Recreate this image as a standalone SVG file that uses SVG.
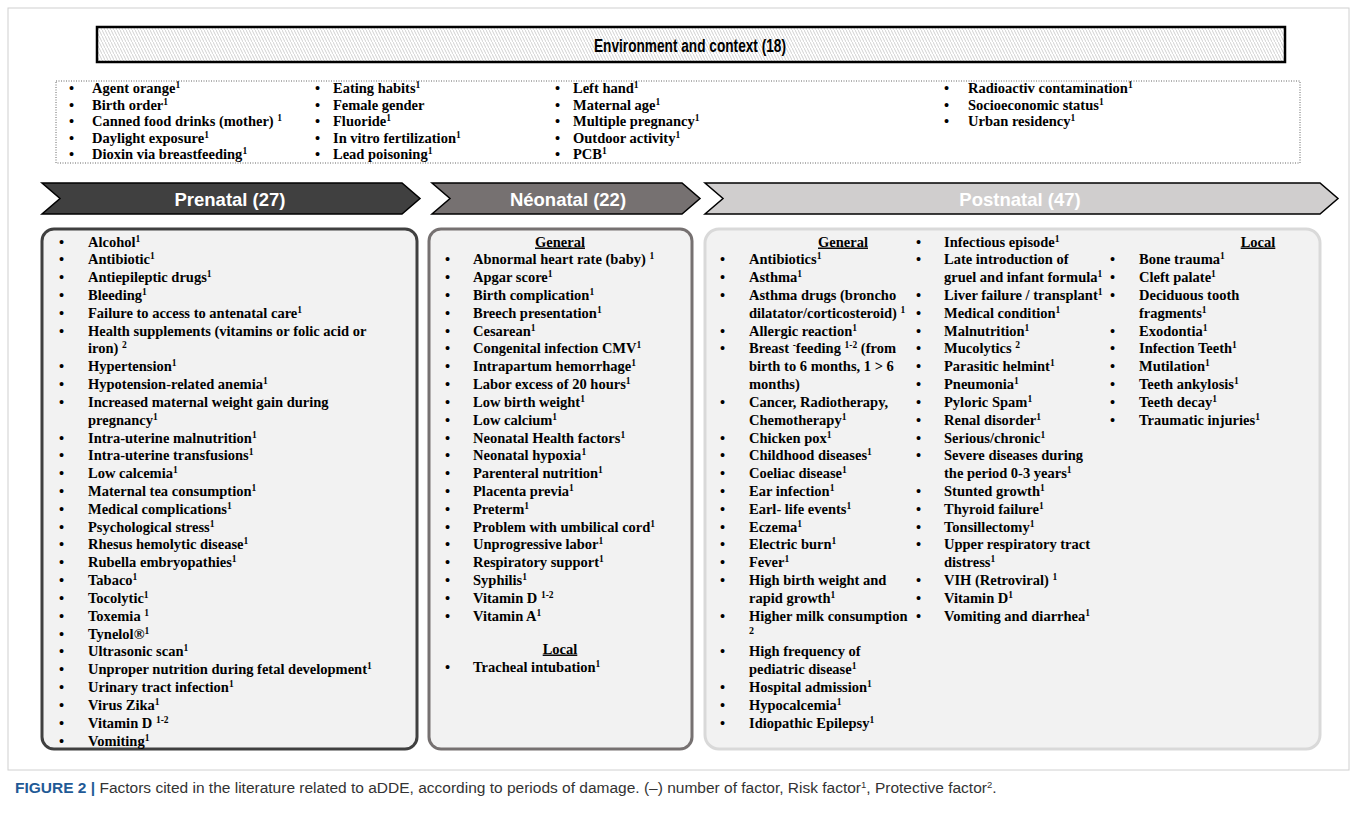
<svg xmlns="http://www.w3.org/2000/svg" width="1357" height="817" viewBox="0 0 1357 817">
<defs>
<pattern id="hatch" width="3" height="6" patternUnits="userSpaceOnUse">
<rect width="3" height="6" fill="#ffffff"/>
<line x1="0" y1="0" x2="3" y2="6" stroke="#bdbdbd" stroke-width="0.7"/>
</pattern>
<style>
.t{font-family:"Liberation Serif","Times New Roman",serif;font-weight:bold;font-size:14.5px;fill:#000}
.b{font-family:"Liberation Serif","Times New Roman",serif;font-weight:bold;font-size:14.5px;fill:#000}
.s{font-size:9.5px;baseline-shift:super}
.h{font-family:"Liberation Sans",Arial,sans-serif;font-weight:bold;font-size:18.5px;fill:#fff;text-anchor:middle}
.u{text-decoration:underline;text-anchor:middle}
.box{fill:#f2f2f2;stroke-width:3}
.cap{font-family:"Liberation Sans",Arial,sans-serif;font-size:15.5px;fill:#333}
</style>
</defs>
<rect width="1357" height="817" fill="#fff"/>
<rect x="8" y="8" width="1341" height="762" fill="none" stroke="#d0d0d0" stroke-width="1"/>

<g id="environment">
<rect x="97" y="27" width="1188" height="35" fill="url(#hatch)" stroke="#000" stroke-width="2.5"/>
<text x="690" y="51.5" font-family="Liberation Sans,Arial,sans-serif" font-weight="bold" font-size="18" text-anchor="middle" textLength="192" lengthAdjust="spacingAndGlyphs">Environment and context (18)</text>
<rect x="56" y="81" width="1244" height="82" fill="#fff" stroke="#666" stroke-width="1" stroke-dasharray="1,1.5"/>
<g class="b">
<text x="69" y="93">•</text><text x="69" y="109.5">•</text><text x="69" y="126">•</text><text x="69" y="142.5">•</text><text x="69" y="159">•</text>
<text x="315" y="93">•</text><text x="315" y="109.5">•</text><text x="315" y="126">•</text><text x="315" y="142.5">•</text><text x="315" y="159">•</text>
<text x="555" y="93">•</text><text x="555" y="109.5">•</text><text x="555" y="126">•</text><text x="555" y="142.5">•</text><text x="555" y="159">•</text>
<text x="944" y="93">•</text><text x="944" y="109.5">•</text><text x="944" y="126">•</text>
</g>
<g class="t">
<text x="92" y="93">Agent orange<tspan class="s">1</tspan></text>
<text x="92" y="109.5">Birth order<tspan class="s">1</tspan></text>
<text x="92" y="126">Canned food drinks (mother) <tspan class="s">1</tspan></text>
<text x="92" y="142.5">Daylight exposure<tspan class="s">1</tspan></text>
<text x="92" y="159">Dioxin via breastfeeding<tspan class="s">1</tspan></text>
<text x="333" y="93">Eating habits<tspan class="s">1</tspan></text>
<text x="333" y="109.5">Female gender</text>
<text x="333" y="126">Fluoride<tspan class="s">1</tspan></text>
<text x="333" y="142.5">In vitro fertilization<tspan class="s">1</tspan></text>
<text x="333" y="159">Lead poisoning<tspan class="s">1</tspan></text>
<text x="573" y="93">Left hand<tspan class="s">1</tspan></text>
<text x="573" y="109.5">Maternal age<tspan class="s">1</tspan></text>
<text x="573" y="126">Multiple pregnancy<tspan class="s">1</tspan></text>
<text x="573" y="142.5">Outdoor activity<tspan class="s">1</tspan></text>
<text x="573" y="159">PCB<tspan class="s">1</tspan></text>
<text x="968" y="93">Radioactiv contamination<tspan class="s">1</tspan></text>
<text x="968" y="109.5">Socioeconomic status<tspan class="s">1</tspan></text>
<text x="968" y="126">Urban residency<tspan class="s">1</tspan></text>
</g>
</g>

<g id="prenatal">
<polygon points="42,183 402,183 420,198.5 402,214 42,214 60,198.5" fill="#404040" stroke="#000" stroke-width="1.5"/>
<text class="h" x="230" y="205.5">Prenatal (27)</text>
<rect class="box" x="42" y="229" width="375" height="520" rx="12" stroke="#404040"/>
<g class="b">
<text x="59" y="246.5">•</text><text x="59" y="264.3">•</text><text x="59" y="282.1">•</text><text x="59" y="300">•</text><text x="59" y="317.8">•</text><text x="59" y="335.6">•</text>
<text x="59" y="371.2">•</text><text x="59" y="389.1">•</text><text x="59" y="406.9">•</text>
<text x="59" y="442.5">•</text><text x="59" y="460.3">•</text><text x="59" y="478.2">•</text><text x="59" y="496">•</text><text x="59" y="513.8">•</text><text x="59" y="531.6">•</text><text x="59" y="549.4">•</text><text x="59" y="567.3">•</text><text x="59" y="585.1">•</text><text x="59" y="602.9">•</text><text x="59" y="620.7">•</text><text x="59" y="638.5">•</text><text x="59" y="656.4">•</text><text x="59" y="674.2">•</text><text x="59" y="692">•</text><text x="59" y="709.8">•</text><text x="59" y="727.6">•</text><text x="59" y="745.5">•</text>
</g>
<g class="t">
<text x="88" y="246.5">Alcohol<tspan class="s">1</tspan></text>
<text x="88" y="264.3">Antibiotic<tspan class="s">1</tspan></text>
<text x="88" y="282.1">Antiepileptic drugs<tspan class="s">1</tspan></text>
<text x="88" y="300">Bleeding<tspan class="s">1</tspan></text>
<text x="88" y="317.8">Failure to access to antenatal care<tspan class="s">1</tspan></text>
<text x="88" y="335.6">Health supplements (vitamins or folic acid or</text>
<text x="88" y="353.4">iron) <tspan class="s">2</tspan></text>
<text x="88" y="371.2">Hypertension<tspan class="s">1</tspan></text>
<text x="88" y="389.1">Hypotension-related anemia<tspan class="s">1</tspan></text>
<text x="88" y="406.9">Increased maternal weight gain during</text>
<text x="88" y="424.7">pregnancy<tspan class="s">1</tspan></text>
<text x="88" y="442.5">Intra-uterine malnutrition<tspan class="s">1</tspan></text>
<text x="88" y="460.3">Intra-uterine transfusions<tspan class="s">1</tspan></text>
<text x="88" y="478.2">Low calcemia<tspan class="s">1</tspan></text>
<text x="88" y="496">Maternal tea consumption<tspan class="s">1</tspan></text>
<text x="88" y="513.8">Medical complications<tspan class="s">1</tspan></text>
<text x="88" y="531.6">Psychological stress<tspan class="s">1</tspan></text>
<text x="88" y="549.4">Rhesus hemolytic disease<tspan class="s">1</tspan></text>
<text x="88" y="567.3">Rubella embryopathies<tspan class="s">1</tspan></text>
<text x="88" y="585.1">Tabaco<tspan class="s">1</tspan></text>
<text x="88" y="602.9">Tocolytic<tspan class="s">1</tspan></text>
<text x="88" y="620.7">Toxemia <tspan class="s">1</tspan></text>
<text x="88" y="638.5">Tynelol®<tspan class="s">1</tspan></text>
<text x="88" y="656.4">Ultrasonic scan<tspan class="s">1</tspan></text>
<text x="88" y="674.2">Unproper nutrition during fetal development<tspan class="s">1</tspan></text>
<text x="88" y="692">Urinary tract infection<tspan class="s">1</tspan></text>
<text x="88" y="709.8">Virus Zika<tspan class="s">1</tspan></text>
<text x="88" y="727.6">Vitamin D <tspan class="s">1-2</tspan></text>
<text x="88" y="745.5">Vomiting<tspan class="s">1</tspan></text>
</g>
</g>

<g id="neonatal">
<polygon points="432,183 682,183 700,198.5 682,214 432,214 450,198.5" fill="#767171" stroke="#000" stroke-width="1.5"/>
<text class="h" x="568" y="205.5">Néonatal (22)</text>
<rect class="box" x="429" y="229" width="263" height="520" rx="12" stroke="#767171"/>
<g class="t">
<text class="u" x="560" y="246.5">General</text>
<text class="u" x="560" y="653.5">Local</text>
</g>
<g class="b">
<text x="445" y="264.3">•</text><text x="445" y="282.1">•</text><text x="445" y="300">•</text><text x="445" y="317.8">•</text><text x="445" y="335.6">•</text><text x="445" y="353.4">•</text><text x="445" y="371.2">•</text><text x="445" y="389.1">•</text><text x="445" y="406.9">•</text><text x="445" y="424.7">•</text><text x="445" y="442.5">•</text><text x="445" y="460.3">•</text><text x="445" y="478.2">•</text><text x="445" y="496">•</text><text x="445" y="513.8">•</text><text x="445" y="531.6">•</text><text x="445" y="549.4">•</text><text x="445" y="567.3">•</text><text x="445" y="585.1">•</text><text x="445" y="602.9">•</text><text x="445" y="620.7">•</text><text x="445" y="671.5">•</text>
</g>
<g class="t">
<text x="473" y="264.3">Abnormal heart rate (baby) <tspan class="s">1</tspan></text>
<text x="473" y="282.1">Apgar score<tspan class="s">1</tspan></text>
<text x="473" y="300">Birth complication<tspan class="s">1</tspan></text>
<text x="473" y="317.8">Breech presentation<tspan class="s">1</tspan></text>
<text x="473" y="335.6">Cesarean<tspan class="s">1</tspan></text>
<text x="473" y="353.4">Congenital infection CMV<tspan class="s">1</tspan></text>
<text x="473" y="371.2">Intrapartum hemorrhage<tspan class="s">1</tspan></text>
<text x="473" y="389.1">Labor excess of 20 hours<tspan class="s">1</tspan></text>
<text x="473" y="406.9">Low birth weight<tspan class="s">1</tspan></text>
<text x="473" y="424.7">Low calcium<tspan class="s">1</tspan></text>
<text x="473" y="442.5">Neonatal Health factors<tspan class="s">1</tspan></text>
<text x="473" y="460.3">Neonatal hypoxia<tspan class="s">1</tspan></text>
<text x="473" y="478.2">Parenteral nutrition<tspan class="s">1</tspan></text>
<text x="473" y="496">Placenta previa<tspan class="s">1</tspan></text>
<text x="473" y="513.8">Preterm<tspan class="s">1</tspan></text>
<text x="473" y="531.6">Problem with umbilical cord<tspan class="s">1</tspan></text>
<text x="473" y="549.4">Unprogressive labor<tspan class="s">1</tspan></text>
<text x="473" y="567.3">Respiratory support<tspan class="s">1</tspan></text>
<text x="473" y="585.1">Syphilis<tspan class="s">1</tspan></text>
<text x="473" y="602.9">Vitamin D <tspan class="s">1-2</tspan></text>
<text x="473" y="620.7">Vitamin A<tspan class="s">1</tspan></text>
<text x="473" y="671.5">Tracheal intubation<tspan class="s">1</tspan></text>
</g>
</g>

<g id="postnatal">
<polygon points="705,183 1320,183 1338,198.5 1320,214 705,214 723,198.5" fill="#d0cece" stroke="#000" stroke-width="1.5"/>
<text class="h" x="1020" y="205.5">Postnatal (47)</text>
<rect class="box" x="705" y="229" width="615" height="520" rx="14" stroke="#d9d9d9"/>
<g class="t">
<text class="u" x="843" y="246.5">General</text>
<text class="u" x="1258" y="246.5">Local</text>
</g>
<g class="b">
<text x="720" y="264.3">•</text><text x="720" y="282.1">•</text><text x="720" y="300">•</text><text x="720" y="335.6">•</text><text x="720" y="353.4">•</text><text x="720" y="406.9">•</text><text x="720" y="442.5">•</text><text x="720" y="460.3">•</text><text x="720" y="478.2">•</text><text x="720" y="496">•</text><text x="720" y="513.8">•</text><text x="720" y="531.6">•</text><text x="720" y="549.4">•</text><text x="720" y="567.3">•</text><text x="720" y="585.1">•</text><text x="720" y="620.7">•</text><text x="720" y="656.4">•</text><text x="720" y="692">•</text><text x="720" y="709.8">•</text><text x="720" y="727.6">•</text>
<text x="916" y="246.5">•</text><text x="916" y="264.3">•</text><text x="916" y="300">•</text><text x="916" y="317.8">•</text><text x="916" y="335.6">•</text><text x="916" y="353.4">•</text><text x="916" y="371.2">•</text><text x="916" y="389.1">•</text><text x="916" y="406.9">•</text><text x="916" y="424.7">•</text><text x="916" y="442.5">•</text><text x="916" y="460.3">•</text><text x="916" y="496">•</text><text x="916" y="513.8">•</text><text x="916" y="531.6">•</text><text x="916" y="549.4">•</text><text x="916" y="585.1">•</text><text x="916" y="602.9">•</text><text x="916" y="620.7">•</text>
<text x="1110" y="264.3">•</text><text x="1110" y="282.1">•</text><text x="1110" y="300">•</text><text x="1110" y="335.6">•</text><text x="1110" y="353.4">•</text><text x="1110" y="371.2">•</text><text x="1110" y="389.1">•</text><text x="1110" y="406.9">•</text><text x="1110" y="424.7">•</text>
</g>
<g class="t">
<text x="749" y="264.3">Antibiotics<tspan class="s">1</tspan></text>
<text x="749" y="282.1">Asthma<tspan class="s">1</tspan></text>
<text x="749" y="300">Asthma drugs (broncho</text>
<text x="749" y="317.8">dilatator/corticosteroid) <tspan class="s">1</tspan></text>
<text x="749" y="335.6">Allergic reaction<tspan class="s">1</tspan></text>
<text x="749" y="353.4">Breast <tspan class="s">-</tspan>feeding <tspan class="s">1-2</tspan> (from</text>
<text x="749" y="371.2">birth to 6 months, 1 &gt; 6</text>
<text x="749" y="389.1">months)</text>
<text x="749" y="406.9">Cancer,  Radiotherapy,</text>
<text x="749" y="424.7">Chemotherapy<tspan class="s">1</tspan></text>
<text x="749" y="442.5">Chicken pox<tspan class="s">1</tspan></text>
<text x="749" y="460.3">Childhood diseases<tspan class="s">1</tspan></text>
<text x="749" y="478.2">Coeliac disease<tspan class="s">1</tspan></text>
<text x="749" y="496">Ear infection<tspan class="s">1</tspan></text>
<text x="749" y="513.8">Earl- life events<tspan class="s">1</tspan></text>
<text x="749" y="531.6">Eczema<tspan class="s">1</tspan></text>
<text x="749" y="549.4">Electric burn<tspan class="s">1</tspan></text>
<text x="749" y="567.3">Fever<tspan class="s">1</tspan></text>
<text x="749" y="585.1">High birth weight and</text>
<text x="749" y="602.9">rapid growth<tspan class="s">1</tspan></text>
<text x="749" y="620.7">Higher milk consumption</text>
<text x="749" y="634" font-size="10">2</text>
<text x="749" y="656.4">High frequency of</text>
<text x="749" y="674.2">pediatric disease<tspan class="s">1</tspan></text>
<text x="749" y="692">Hospital admission<tspan class="s">1</tspan></text>
<text x="749" y="709.8">Hypocalcemia<tspan class="s">1</tspan></text>
<text x="749" y="727.6">Idiopathic Epilepsy<tspan class="s">1</tspan></text>

<text x="944" y="246.5">Infectious episode<tspan class="s">1</tspan></text>
<text x="944" y="264.3">Late introduction of</text>
<text x="944" y="282.1">gruel and infant formula<tspan class="s">1</tspan></text>
<text x="944" y="300">Liver failure / transplant<tspan class="s">1</tspan></text>
<text x="944" y="317.8">Medical condition<tspan class="s">1</tspan></text>
<text x="944" y="335.6">Malnutrition<tspan class="s">1</tspan></text>
<text x="944" y="353.4">Mucolytics <tspan class="s">2</tspan></text>
<text x="944" y="371.2">Parasitic helmint<tspan class="s">1</tspan></text>
<text x="944" y="389.1">Pneumonia<tspan class="s">1</tspan></text>
<text x="944" y="406.9">Pyloric Spam<tspan class="s">1</tspan></text>
<text x="944" y="424.7">Renal disorder<tspan class="s">1</tspan></text>
<text x="944" y="442.5">Serious/chronic<tspan class="s">1</tspan></text>
<text x="944" y="460.3">Severe diseases during</text>
<text x="944" y="478.2">the period 0-3 years<tspan class="s">1</tspan></text>
<text x="944" y="496">Stunted growth<tspan class="s">1</tspan></text>
<text x="944" y="513.8">Thyroid failure<tspan class="s">1</tspan></text>
<text x="944" y="531.6">Tonsillectomy<tspan class="s">1</tspan></text>
<text x="944" y="549.4">Upper respiratory tract</text>
<text x="944" y="567.3">distress<tspan class="s">1</tspan></text>
<text x="944" y="585.1">VIH (Retroviral) <tspan class="s">1</tspan></text>
<text x="944" y="602.9">Vitamin D<tspan class="s">1</tspan></text>
<text x="944" y="620.7">Vomiting and diarrhea<tspan class="s">1</tspan></text>

<text x="1139" y="264.3">Bone trauma<tspan class="s">1</tspan></text>
<text x="1139" y="282.1">Cleft palate<tspan class="s">1</tspan></text>
<text x="1139" y="300">Deciduous tooth</text>
<text x="1139" y="317.8">fragments<tspan class="s">1</tspan></text>
<text x="1139" y="335.6">Exodontia<tspan class="s">1</tspan></text>
<text x="1139" y="353.4">Infection Teeth<tspan class="s">1</tspan></text>
<text x="1139" y="371.2">Mutilation<tspan class="s">1</tspan></text>
<text x="1139" y="389.1">Teeth ankylosis<tspan class="s">1</tspan></text>
<text x="1139" y="406.9">Teeth decay<tspan class="s">1</tspan></text>
<text x="1139" y="424.7">Traumatic injuries<tspan class="s">1</tspan></text>
</g>
</g>

<g id="caption">
<text class="cap" x="15" y="793"><tspan font-weight="bold" fill="#1f5a96">FIGURE 2 |</tspan> Factors cited in the literature related to aDDE, according to periods of damage. (–) number of factor, Risk factor<tspan class="s">1</tspan>, Protective factor<tspan class="s">2</tspan>.</text>
</g>
</svg>
